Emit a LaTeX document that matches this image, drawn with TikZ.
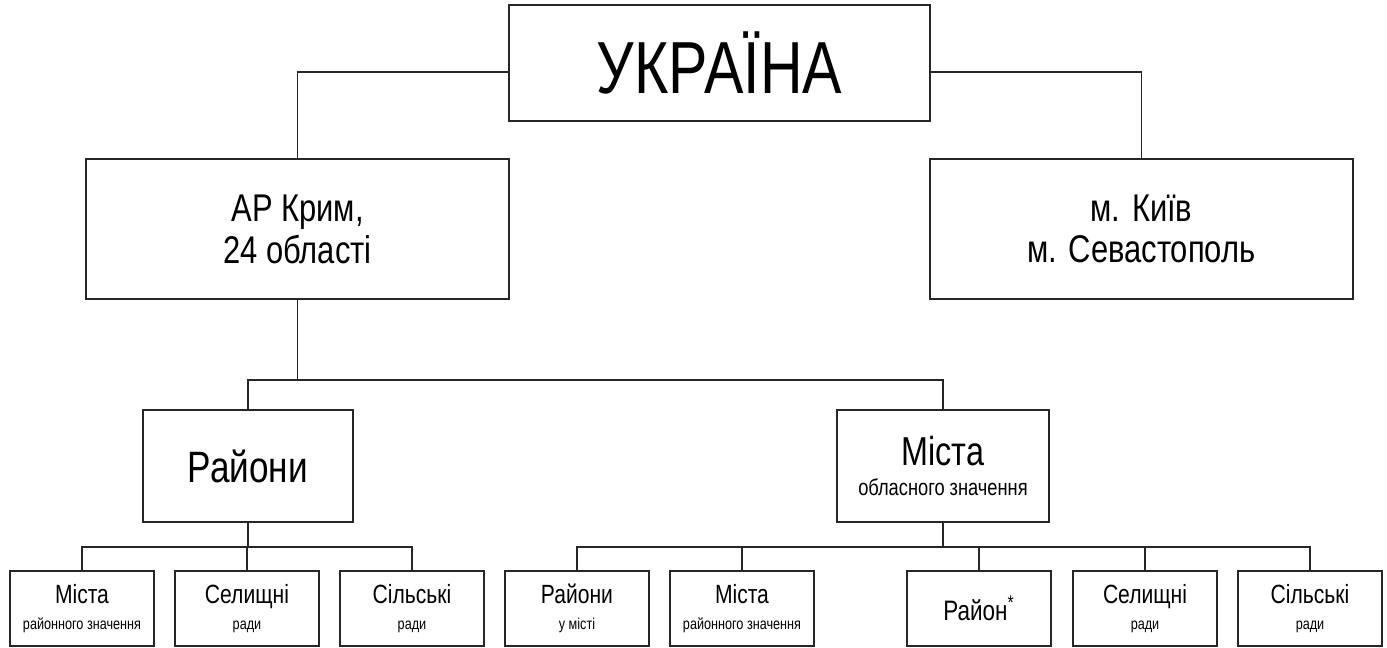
\documentclass[tikz,border=0pt]{standalone}
\usepackage{fontspec}
\setmainfont{Liberation Sans}[FakeStretch=0.8]
\newcommand\leaftext[2]{{\fontsize{15}{15}\selectfont #1}\\{#2}}
\begin{document}
\begin{tikzpicture}[x=0.02cm,y=-0.02cm,
    box/.style={draw=black!85,line width=0.8pt,inner sep=0pt,outer sep=0pt,align=center},
    leaf/.style={box,minimum width=2.88cm,minimum height=1.5cm,font=\fontsize{9}{14.7}\selectfont},
    wire/.style={draw=black!85,line width=0.8pt}]
    \useasboundingbox (0,0) rectangle (1387,648);

    % top levels
    \node[box,minimum width=8.42cm,minimum height=2.32cm,font=\fontsize{42}{42}\selectfont]
        (ukr) at (719.5,63) {УКРАЇНА};
    \node[box,minimum width=8.46cm,minimum height=2.8cm,font=\fontsize{22}{24}\selectfont]
        (krym) at (297.5,229) {АР Крим,\\24 області};
    \node[box,minimum width=8.46cm,minimum height=2.8cm,font=\fontsize{22}{23}\selectfont]
        (kyiv) at (1141.5,229) {м. Київ\\м. Севастополь};
    \node[box,minimum width=4.2cm,minimum height=2.24cm,font=\fontsize{25}{25}\selectfont]
        (rayony) at (248,466) {Райони};
    \node[box,minimum width=4.24cm,minimum height=2.24cm,font=\fontsize{13}{17}\selectfont]
        (mista) at (943,466) {{\fontsize{23}{23}\selectfont Міста}\\обласного значення};

    % bottom level
    \node[leaf] (rm1) at (82,608.5) {\leaftext{Міста}{районного значення}};
    \node[leaf] (sel1) at (247,608.5) {\leaftext{Селищні}{ради}};
    \node[leaf] (sil1) at (412,608.5) {\leaftext{Сільські}{ради}};
    \node[leaf] (rum) at (577,608.5) {\leaftext{Райони}{у місті}};
    \node[leaf] (rm2) at (742,608.5) {\leaftext{Міста}{районного значення}};
    \node[leaf,font=\fontsize{16}{16}\selectfont] (rayon) at (979,608.5) {Район\textsuperscript{*}};
    \node[leaf] (sel2) at (1145,608.5) {\leaftext{Селищні}{ради}};
    \node[leaf] (sil2) at (1310,608.5) {\leaftext{Сільські}{ради}};

    % connectors
    \draw[wire] (ukr.west |- 0,72) -| (krym.north);
    \draw[wire] (ukr.east |- 0,72) -| (kyiv.north);

    \coordinate (kbus) at (297.5,380);
    \draw[wire] (krym.south) -- (kbus);
    \draw[wire] (rayony.north) |- (kbus) -| (mista.north);

    \coordinate (rbus) at (248,547);
    \draw[wire] (rayony.south) -- (rbus);
    \draw[wire] (rm1.north) |- (rbus) -| (sil1.north);
    \draw[wire] (sel1.north) -- (sel1.north |- rbus);

    \coordinate (mbus) at (943,547);
    \draw[wire] (mista.south) -- (mbus);
    \draw[wire] (rum.north) |- (mbus) -| (sil2.north);
    \foreach \n in {rm2,rayon,sel2}
        \draw[wire] (\n.north) -- (\n.north |- mbus);
\end{tikzpicture}
\end{document}
